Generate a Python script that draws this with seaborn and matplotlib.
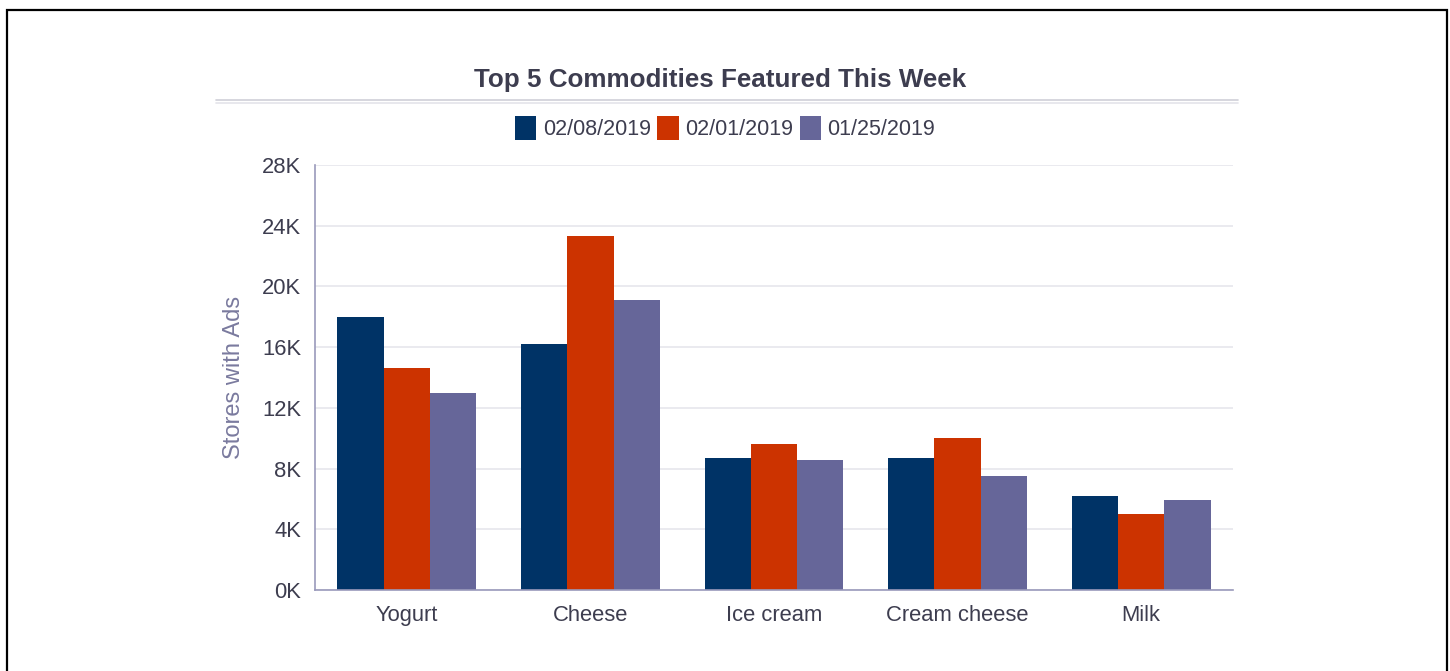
import matplotlib
matplotlib.use("Agg")
import matplotlib.pyplot as plt
import seaborn as sns
import pandas as pd
from matplotlib.patches import Patch, Rectangle
from matplotlib.lines import Line2D
from matplotlib.ticker import FuncFormatter, MultipleLocator

categories = ["Yogurt", "Cheese", "Ice cream", "Cream cheese", "Milk"]
series_names = ["02/08/2019", "02/01/2019", "01/25/2019"]
vals_0208 = [18000, 16200, 8700, 8700, 6200]
vals_0201 = [14600, 23300, 9600, 10000, 5000]
vals_0125 = [13000, 19100, 8550, 7500, 5950]
colors = ["#003366", "#CC3300", "#666699"]

rows = []
for name, vals in zip(series_names, [vals_0208, vals_0201, vals_0125]):
    for c, v in zip(categories, vals):
        rows.append({"Commodity": c, "Week": name, "Stores": v})
df = pd.DataFrame(rows)

sns.set_theme(style="white")
plt.rcParams["font.family"] = ["Liberation Sans", "DejaVu Sans"]

text_color = "#3d3d4f"
fig = plt.figure(figsize=(14.5, 6.71), dpi=100)
ax = fig.add_axes([315 / 1450, 1 - 590 / 671, (1233 - 315) / 1450, (590 - 165) / 671])

sns.barplot(data=df, x="Commodity", y="Stores", hue="Week", hue_order=series_names,
            order=categories, palette=colors, width=0.757, gap=0, saturation=1,
            ax=ax, legend=False, errorbar=None, linewidth=0)

ax.set_ylim(0, 28000)
ax.set_xlim(-0.5, 4.5)
ax.yaxis.set_major_locator(MultipleLocator(4000))
ax.yaxis.set_major_formatter(FuncFormatter(lambda v, p: f"{int(v/1000)}K"))
ax.grid(axis="y", color="#e6e6ec", linewidth=1.2)
ax.set_axisbelow(True)
for s in ["top", "right"]:
    ax.spines[s].set_visible(False)
ax.spines["left"].set_color("#9a9abb")
ax.spines["bottom"].set_color("#9a9abb")
ax.spines["left"].set_linewidth(1.2)
ax.spines["bottom"].set_linewidth(1.2)
ax.tick_params(axis="y", length=0, labelsize=15.8, colors=text_color, pad=10)
ax.tick_params(axis="x", length=0, labelsize=15.8, colors=text_color, pad=11)
ax.set_xlabel("")
ax.set_ylabel("Stores with Ads", fontsize=17, color="#7a7a9e", labelpad=12)

fig.text(720 / 1450, 1 - 79.5 / 671, "Top 5 Commodities Featured This Week",
         ha="center", va="center", fontsize=18.7, fontweight="bold", color=text_color)

# title separator (double line)
fig.add_artist(Line2D([216 / 1450, 1238 / 1450], [1 - 100 / 671] * 2,
                      transform=fig.transFigure, color="#d0d0d8", linewidth=1.2))
fig.add_artist(Line2D([216 / 1450, 1238 / 1450], [1 - 103 / 671] * 2,
                      transform=fig.transFigure, color="#e4e4ea", linewidth=1.2))

handles = [Patch(facecolor=c, edgecolor="none") for c in colors]
fig.legend(handles, series_names, loc="center", bbox_to_anchor=(725 / 1450, 1 - 128 / 671),
           ncol=3, frameon=False, fontsize=15.5, handlelength=1.0, handleheight=1.4,
           handletextpad=0.3, columnspacing=0.3, labelcolor=text_color)

# outer border
fig.add_artist(Rectangle((7 / 1450, -0.05), (1447 - 7) / 1450, (1 - 10 / 671) + 0.05,
                         transform=fig.transFigure, fill=False, edgecolor="black",
                         linewidth=1.6))

fig.savefig("out.png", dpi=100)
